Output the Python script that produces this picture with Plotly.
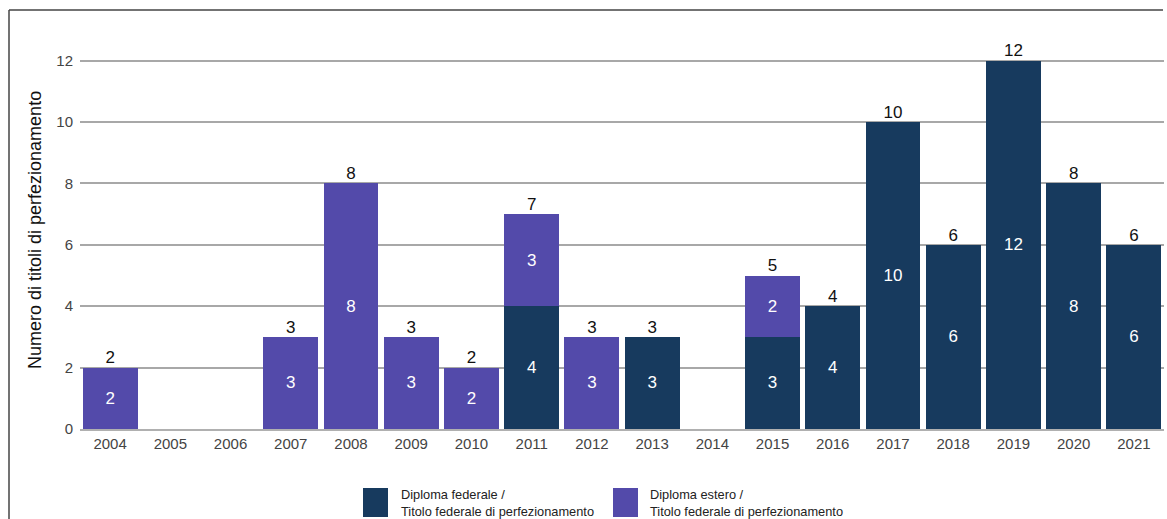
import plotly.graph_objects as go

years = [str(y) for y in range(2004, 2022)]
federale = [0, 0, 0, 0, 0, 0, 0, 4, 0, 3, 0, 3, 4, 10, 6, 12, 8, 6]
estero = [2, 0, 0, 3, 8, 3, 2, 3, 3, 0, 0, 2, 0, 0, 0, 0, 0, 0]
totals = [f + e for f, e in zip(federale, estero)]
name_fed = "Diploma federale /<br>Titolo federale di perfezionamento"
name_est = "Diploma estero /<br>Titolo federale di perfezionamento"
y_title = "Numero di titoli di perfezionamento"

NAVY = "#173A5E"
PURPLE = "#534AAA"
FONT = "Liberation Sans, Arial, sans-serif"

fig = go.Figure()
fig.add_trace(go.Bar(
    x=years, y=federale, name=name_fed, marker=dict(color=NAVY, line=dict(width=0)),
    text=[str(v) if v else "" for v in federale], textposition="inside",
    insidetextanchor="middle", textfont=dict(color="white", size=17, family=FONT),
    showlegend=False, hoverinfo="skip"))
fig.add_trace(go.Bar(
    x=years, y=estero, name=name_est, marker=dict(color=PURPLE, line=dict(width=0)),
    text=[str(v) if v else "" for v in estero], textposition="inside",
    insidetextanchor="middle", textfont=dict(color="white", size=17, family=FONT),
    showlegend=False, hoverinfo="skip"))
fig.add_trace(go.Scatter(
    x=[y for y, t in zip(years, totals) if t], y=[t for t in totals if t],
    text=[str(t) for t in totals if t], mode="text", textposition="top center",
    textfont=dict(color="#111111", size=17, family=FONT), showlegend=False,
    hoverinfo="skip", cliponaxis=False))

L, R, T, B = 80, 3, 30, 90
W, H = 1167, 519
pw, ph = W - L - R, H - T - B

def px(x):
    return (x - L) / pw

def py(y):
    return (H - B - y) / ph

shapes = [
    dict(type="line", xref="paper", yref="paper", x0=px(9), x1=px(9), y0=py(10), y1=py(530),
         line=dict(color="#444444", width=1.5)),
    dict(type="line", xref="paper", yref="paper", x0=px(9), x1=px(1163), y0=py(10), y1=py(10),
         line=dict(color="#444444", width=1.5)),
    dict(type="rect", xref="paper", yref="paper", x0=px(363), x1=px(388), y0=py(517), y1=py(488),
         fillcolor=NAVY, line=dict(width=0)),
    dict(type="rect", xref="paper", yref="paper", x0=px(613), x1=px(638), y0=py(517), y1=py(488),
         fillcolor=PURPLE, line=dict(width=0)),
]
annotations = [
    dict(xref="paper", yref="paper", x=px(399), y=py(503), text=name_fed, showarrow=False,
         xanchor="left", yanchor="middle", align="left",
         font=dict(size=12.8, color="#222222", family=FONT)),
    dict(xref="paper", yref="paper", x=px(648), y=py(503), text=name_est, showarrow=False,
         xanchor="left", yanchor="middle", align="left",
         font=dict(size=12.8, color="#222222", family=FONT)),
    dict(xref="paper", yref="paper", x=px(35), y=py(230), text=y_title, showarrow=False,
         textangle=-90, xanchor="center", yanchor="middle",
         font=dict(size=18, color="#111111", family=FONT)),
]

fig.update_layout(
    width=W, height=H, barmode="stack", bargap=0.09,
    margin=dict(l=L, r=R, t=T, b=B, autoexpand=False),
    plot_bgcolor="white", paper_bgcolor="white",
    font=dict(family=FONT),
    shapes=shapes, annotations=annotations,
    uniformtext=dict(mode="show", minsize=8),
)
fig.update_xaxes(type="category", range=[-0.5, len(years) - 0.5], showgrid=False,
                 showline=True, linecolor="#b0b0b0", linewidth=1.5,
                 tickfont=dict(size=15, color="#444444"), ticks="", ticklen=0, automargin=False)
fig.update_yaxes(range=[0, 13], tickvals=[0, 2, 4, 6, 8, 10, 12], showgrid=True,
                 gridcolor="#a8a8a8", gridwidth=1.5, zeroline=False, ticklabelstandoff=6,
                 tickfont=dict(size=15, color="#444444"), ticks="", automargin=False)

fig.write_html("out.html", config={"displayModeBar": False},
               post_script="document.body.style.margin='0';document.body.style.overflow='hidden';")
